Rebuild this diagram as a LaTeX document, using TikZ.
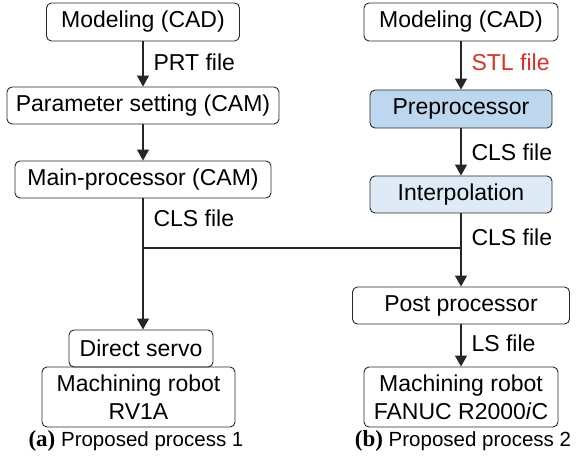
\documentclass[tikz,border=0pt]{standalone}
\usepackage{fontspec}
\setmainfont{Liberation Sans}
\newfontfamily\capfont{Liberation Serif}
\usetikzlibrary{arrows.meta}
\definecolor{preblue}{RGB}{189,215,238}
\definecolor{interpblue}{RGB}{222,235,247}
\definecolor{stlred}{RGB}{229,45,36}
\definecolor{boxline}{RGB}{40,40,40}
\tikzset{
  process box/.style={draw=boxline, line width=0.9pt, rounded corners=5pt, inner sep=0pt, align=center, font=\fontsize{23}{28}\selectfont},
  flow line/.style={line width=1.2pt, draw=black!85},
  flow arrow/.style={flow line, -{Triangle[length=11pt, width=12pt]}},
  file label/.style={right=8pt, inner sep=2pt, text=black, font=\fontsize{23}{28}\selectfont},
  caption text/.style={font=\fontsize{20.5}{24}\selectfont},
}
\begin{document}
\begin{tikzpicture}[x=1pt, y=-1pt]
  \useasboundingbox (0,0) rectangle (581,462);
  % proposed process 1
  \node[process box, minimum width=193pt, minimum height=38pt] (cadA) at (143,22) {Modeling (CAD)};
  \node[process box, minimum width=272pt, minimum height=37pt] (paramA) at (143,105.5) {Parameter setting (CAM)};
  \node[process box, minimum width=256pt, minimum height=37pt] (mainA) at (143,179.5) {Main-processor (CAM)};
  \node[process box, minimum width=144pt, minimum height=37pt] (servoA) at (141,348.5) {Direct servo};
  \node[process box, minimum width=193pt, minimum height=60pt] (robotA) at (138.5,397) {Machining robot\\RV1A};
  \node[caption text] (capA) at (136,441) {{\capfont\bfseries\fontsize{23}{24}\selectfont (a)} Proposed process 1};
  % proposed process 2
  \node[process box, minimum width=194pt, minimum height=38pt] (cadB) at (461,22) {Modeling (CAD)};
  \node[process box, fill=preblue, minimum width=182pt, minimum height=38pt] (preB) at (461,109) {Preprocessor};
  \node[process box, fill=interpblue, minimum width=182pt, minimum height=37pt] (interpB) at (461,194.5) {Interpolation};
  \node[process box, minimum width=217pt, minimum height=37pt] (postB) at (461,305.5) {Post processor};
  \node[process box, minimum width=194pt, minimum height=60pt] (robotB) at (461,397) {Machining robot\\FANUC R2000\textit{i}C};
  \node[caption text] (capB) at (463,441) {{\capfont\bfseries\fontsize{23}{24}\selectfont (b)} Proposed process 2};
  % connectors
  \draw[flow arrow] (cadA.south) -- (paramA.north) node[file label, pos=.47] {PRT file};
  \draw[flow arrow] (paramA.south) -- (mainA.north);
  \draw[flow arrow] (mainA.south) -- (mainA.south |- servoA.north) node[file label, pos=.15] {CLS file};
  \draw[flow arrow] (cadB.south) -- (preB.north) node[file label, pos=.43, text=stlred] {STL file};
  \draw[flow arrow] (preB.south) -- (interpB.north) node[file label, midway] {CLS file};
  \draw[flow arrow] (interpB.south) -- (postB.north) node[file label, pos=.32] {CLS file};
  \draw[flow arrow] (postB.south) -- (robotB.north) node[file label, pos=.45] {LS file};
  \coordinate (joint) at (0,248);
  \draw[flow line] (mainA.south |- joint) -- (interpB.south |- joint);
\end{tikzpicture}
\end{document}
